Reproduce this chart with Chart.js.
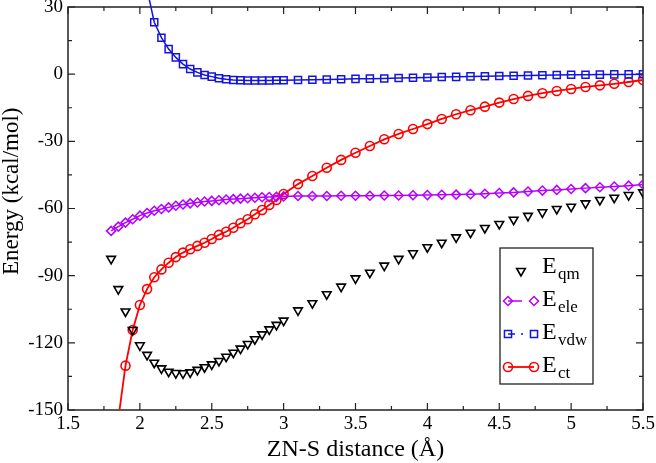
<!DOCTYPE html>
<html>
<head>
<meta charset="utf-8">
<title>Energy vs ZN-S distance</title>
<script src="https://cdn.jsdelivr.net/npm/chart.js@4/dist/chart.umd.min.js"></script>
<style>
  html, body { margin: 0; padding: 0; background: #fff; }
</style>
</head>
<body>
<canvas id="chart" width="656" height="463"></canvas>
<script>
// ── Values ────────────────────────────────────────────
const distance = [1.8, 1.85, 1.9, 1.95, 2.0, 2.05, 2.1, 2.15, 2.2, 2.25, 2.3, 2.35, 2.4, 2.45, 2.5,
  2.55, 2.6, 2.65, 2.7, 2.75, 2.8, 2.85, 2.9, 2.95, 3.0, 3.1, 3.2, 3.3, 3.4, 3.5, 3.6, 3.7, 3.8,
  3.9, 4.0, 4.1, 4.2, 4.3, 4.4, 4.5, 4.6, 4.7, 4.8, 4.9, 5.0, 5.1, 5.2, 5.3, 5.4, 5.5];

const eQm = [-82.5, -96, -106, -114.3, -121.1, -125.4, -128.9, -131.4, -132.9, -133.5, -133.6,
  -133.2, -132.1, -130.9, -129.6, -128.1, -126.2, -124.4, -122.6, -120.5, -118.4, -116.2, -114.0,
  -112.0, -110.1, -105.5, -102.3, -98.3, -94.9, -91.2, -88.7, -85.5, -82.5, -80.0, -77.3, -75.3,
  -72.9, -70.8, -68.7, -66.9, -65.0, -63.3, -61.7, -60.2, -59.2, -57.7, -56.2, -55.2, -54.0, -52.8];

const eEle = [-70, -68.1, -66.3, -64.8, -63.2, -62.0, -61.0, -60.2, -59.5, -58.8, -58.2, -57.7,
  -57.3, -56.9, -56.6, -56.3, -56.0, -55.8, -55.6, -55.4, -55.2, -55.0, -54.9, -54.8, -54.6,
  -54.4, -54.4, -54.4, -54.3, -54.3, -54.3, -54.2, -54.2, -54.1, -54.0, -53.9, -53.8, -53.6,
  -53.4, -53.1, -52.8, -52.4, -52.0, -51.7, -51.3, -50.9, -50.5, -50.2, -49.8, -49.3];

const eVdw = [200, 150, 110, 80, 58, 38, 23.2, 16.3, 11.2, 7.5, 4.5, 2.3, 0.8, -0.4, -1.1, -1.8,
  -2.3, -2.6, -2.7, -2.8, -2.8, -2.8, -2.8, -2.7, -2.7, -2.6, -2.5, -2.4, -2.3, -2.1, -2.0, -1.9,
  -1.7, -1.6, -1.5, -1.3, -1.2, -1.0, -0.9, -0.8, -0.7, -0.6, -0.5, -0.4, -0.3, -0.3, -0.2, -0.1,
  -0.1, 0.0];

const eCt = [-182, -154, -130.2, -114.3, -103.1, -96.0, -90.7, -87.2, -84.2, -81.7, -79.7, -78.2,
  -76.7, -75.3, -73.6, -71.8, -70.4, -68.6, -66.6, -64.8, -62.6, -60.7, -58.4, -56.2, -53.5,
  -49.1, -45.5, -41.8, -38.3, -35.1, -32.1, -29.1, -26.7, -24.5, -22.3, -20.0, -17.9, -16.1,
  -14.5, -12.7, -11.1, -9.7, -8.5, -7.5, -6.6, -5.7, -5.0, -4.3, -3.5, -2.6];

const xTicks = [1.5, 2, 2.5, 3, 3.5, 4, 4.5, 5, 5.5];
const yTicks = [-150, -120, -90, -60, -30, 0, 30];

const FONT = "'Liberation Serif', 'DejaVu Serif', serif";

const pts = ys => distance.map((x, i) => ({ x, y: ys[i] }));
const mids = t => t.slice(1).map((v, i) => (v + t[i]) / 2);

// ── Inward ticks + frame (xmgrace look) ───────────────
const framePlugin = {
  id: 'frame',
  beforeDatasetsDraw(chart) {
    const { ctx, chartArea: a, scales: { x, y } } = chart;
    ctx.save();
    ctx.strokeStyle = '#222';
    ctx.lineWidth = 1.2;
    ctx.beginPath();
    const vt = (v, len) => {
      const px = x.getPixelForValue(v);
      ctx.moveTo(px, a.bottom); ctx.lineTo(px, a.bottom - len);
      ctx.moveTo(px, a.top);    ctx.lineTo(px, a.top + len);
    };
    const ht = (v, len) => {
      const py = y.getPixelForValue(v);
      ctx.moveTo(a.left, py);  ctx.lineTo(a.left + len, py);
      ctx.moveTo(a.right, py); ctx.lineTo(a.right - len, py);
    };
    xTicks.forEach(v => vt(v, 7));
    mids(xTicks).forEach(v => vt(v, 4));
    yTicks.forEach(v => ht(v, 7));
    mids(yTicks).forEach(v => ht(v, 4));
    ctx.stroke();
    ctx.lineWidth = 1.5;
    ctx.strokeRect(a.left, a.top, a.right - a.left, a.bottom - a.top);
    ctx.restore();
  }
};

// ── Legend box with subscripts ────────────────────────
const legendPlugin = {
  id: 'subLegend',
  afterDatasetsDraw(chart) {
    const { ctx } = chart;
    const box = { left: 500, top: 248, right: 593, bottom: 384 };
    const rows = [268, 301, 334, 367];
    ctx.save();
    ctx.fillStyle = '#fff';
    ctx.fillRect(box.left, box.top, box.right - box.left, box.bottom - box.top);
    ctx.strokeStyle = '#222';
    ctx.lineWidth = 1.3;
    ctx.strokeRect(box.left, box.top, box.right - box.left, box.bottom - box.top);

    chart.data.datasets.forEach((ds, i) => {
      const ry = rows[i];
      const x1 = 508, x2 = 534;
      ctx.strokeStyle = ds.borderColor;
      ctx.fillStyle = 'rgba(0,0,0,0)';
      ctx.lineWidth = ds.borderWidth;
      const mark = (mx, my) => Chart.helpers.drawPoint(ctx, {
        pointStyle: ds.pointStyle, rotation: ds.pointRotation || 0,
        radius: ds.pointRadius, borderWidth: ds.pointBorderWidth
      }, mx, my);
      if (!ds.showLine) {
        ctx.lineWidth = ds.pointBorderWidth;
        mark(521, ry + 3);
      } else {
        ctx.beginPath();
        if (ds.legendLine === 'dash') {
          ctx.moveTo(x1, ry); ctx.lineTo(x1 + 14, ry);
        } else if (ds.legendLine === 'dashdot') {
          ctx.moveTo(x1, ry); ctx.lineTo(x1 + 7, ry);
          ctx.moveTo(x1 + 13, ry); ctx.lineTo(x1 + 15, ry);
        } else {
          ctx.moveTo(x1, ry); ctx.lineTo(x2, ry);
        }
        ctx.stroke();
        ctx.lineWidth = ds.pointBorderWidth;
        mark(x1, ry);
        mark(x2, ry);
      }
      ctx.fillStyle = '#000';
      ctx.textBaseline = 'alphabetic';
      ctx.textAlign = 'left';
      ctx.font = `24px ${FONT}`;
      ctx.fillText('E', 542, ry + 4.5);
      ctx.font = `17px ${FONT}`;
      ctx.fillText(ds.label, 558, ry + 11);
    });
    ctx.restore();
  }
};

new Chart(document.getElementById('chart'), {
  type: 'scatter',
  data: {
    datasets: [
      {
        label: 'qm', data: pts(eQm), showLine: false,
        borderColor: '#000', backgroundColor: 'rgba(0,0,0,0)',
        pointStyle: 'triangle', pointRotation: 180, pointRadius: 5, pointBorderWidth: 1.6, borderWidth: 1.6
      },
      {
        label: 'ele', data: pts(eEle), showLine: true, legendLine: 'dash',
        borderColor: '#b400ff', backgroundColor: 'rgba(0,0,0,0)', borderWidth: 1.5,
        pointStyle: 'rectRot', pointRadius: 4.5, pointBorderWidth: 1.5
      },
      {
        label: 'vdw', data: pts(eVdw), showLine: true, legendLine: 'dashdot',
        borderColor: '#1414e0', backgroundColor: 'rgba(0,0,0,0)', borderWidth: 1.5,
        pointStyle: 'rect', pointRadius: 5, pointBorderWidth: 1.5,
        clip: { left: 0, top: 10, right: 0, bottom: 0 }
      },
      {
        label: 'ct', data: pts(eCt), showLine: true,
        borderColor: '#ff0000', backgroundColor: 'rgba(0,0,0,0)', borderWidth: 1.8,
        pointStyle: 'circle', pointRadius: 4.5, pointBorderWidth: 1.6
      }
    ]
  },
  options: {
    responsive: false,
    animation: false,
    layout: { padding: { top: 7, right: 13, left: 0, bottom: 0 } },
    plugins: { legend: { display: false }, tooltip: { enabled: false } },
    elements: { line: { tension: 0 } },
    scales: {
      x: {
        type: 'linear', min: 1.5, max: 5.5,
        afterBuildTicks: s => { s.ticks = xTicks.map(value => ({ value })); },
        afterFit: s => { s.height = 53; s.paddingLeft = 0; s.paddingRight = 0; },
        grid: { display: false, drawTicks: false },
        border: { display: false },
        ticks: {
          color: '#000', padding: 3, maxRotation: 0, autoSkip: false,
          font: { family: FONT, size: 19 },
          callback: v => String(v)
        },
        title: {
          display: true, text: 'ZN-S distance (Å)', color: '#000',
          font: { family: FONT, size: 24, lineHeight: 1 }, padding: { top: 0, bottom: 1 }
        }
      },
      y: {
        type: 'linear', min: -150, max: 30,
        afterBuildTicks: s => { s.ticks = yTicks.map(value => ({ value })); },
        afterFit: s => { s.width = 68; s.paddingTop = 0; s.paddingBottom = 0; },
        grid: { display: false, drawTicks: false },
        border: { display: false },
        ticks: {
          color: '#000', padding: 5,
          font: { family: FONT, size: 19 },
          callback: v => String(v)
        },
        title: {
          display: true, text: '\u00a0\u00a0\u00a0\u00a0\u00a0\u00a0Energy (kcal/mol)', color: '#000',
          font: { family: FONT, size: 23, lineHeight: 1 }, padding: { top: 0, bottom: 0 }
        }
      }
    }
  },
  plugins: [framePlugin, legendPlugin]
});
</script>
</body>
</html>
